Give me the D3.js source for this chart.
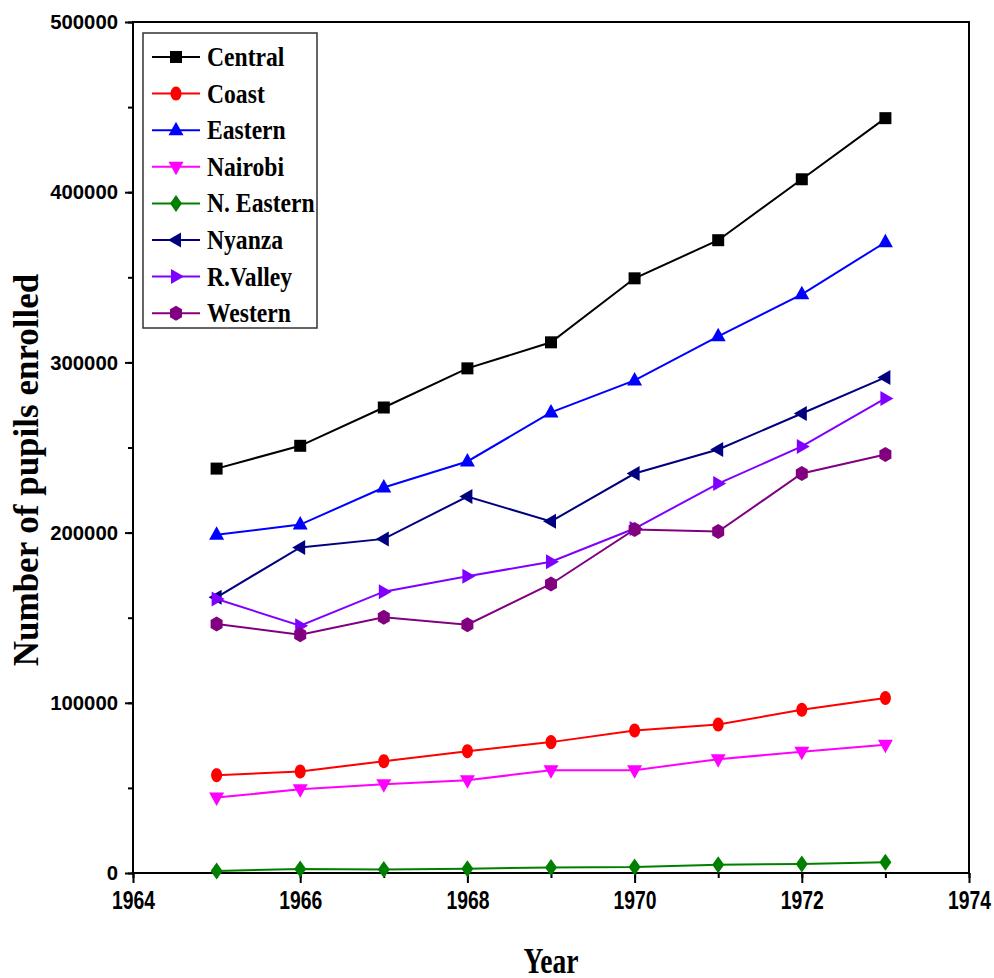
<!DOCTYPE html>
<html>
<head>
<meta charset="utf-8">
<script src="https://cdn.jsdelivr.net/npm/d3@7"></script>
<style>
  body { margin: 0; background: #fff; }
  svg { display: block; }
</style>
</head>
<body>
<div class="chart"></div>
<script>

// data
var years = [1965, 1966, 1967, 1968, 1969, 1970, 1971, 1972, 1973];
var central  = [237600, 251000, 273500, 296500, 311800, 349400, 371800, 407600, 443500];
var coast    = [57500, 59600, 65700, 71600, 76900, 83700, 87200, 95900, 102800];
var eastern  = [198800, 204700, 226500, 241800, 270600, 289400, 315300, 340000, 370600];
var nairobi  = [44300, 49200, 52200, 54500, 60400, 60400, 66900, 71200, 75300];
var nEastern = [1200, 2400, 2000, 2500, 3300, 3500, 4900, 5300, 6300];
var nyanza   = [162000, 191300, 196300, 221200, 206600, 234700, 248800, 270000, 291200];
var rValley  = [161000, 145300, 165300, 174300, 182900, 202400, 228800, 250600, 278800];
var western  = [146300, 140000, 150200, 145900, 169800, 201800, 200600, 234700, 245900];

var seriesNames = ["Central", "Coast", "Eastern", "Nairobi", "N. Eastern", "Nyanza", "R.Valley", "Western"];
var xTicks = [1964, 1966, 1968, 1970, 1972, 1974];
var yTicks = [0, 100000, 200000, 300000, 400000, 500000];

var series = [
  {name: seriesNames[0], values: central,  color: "#000000", marker: "square"},
  {name: seriesNames[1], values: coast,    color: "#ff0000", marker: "circle"},
  {name: seriesNames[2], values: eastern,  color: "#0000ff", marker: "up"},
  {name: seriesNames[3], values: nairobi,  color: "#ff00ff", marker: "down"},
  {name: seriesNames[4], values: nEastern, color: "#008000", marker: "diamond"},
  {name: seriesNames[5], values: nyanza,   color: "#000080", marker: "left"},
  {name: seriesNames[6], values: rValley,  color: "#8000ff", marker: "right"},
  {name: seriesNames[7], values: western,  color: "#800080", marker: "hexagon"}
];

var width = 994;
var height = 978;
// plot box (note: "top" is reserved on window, so use other names)
var plotLeft = 133, plotRight = 969, plotTop = 22, plotBottom = 873;

// marker shapes, centred on 0,0
function markerPath(type) {
  var p = d3.path();
  if (type == "square") {
    p.rect(-6, -6, 12, 12);
  } else if (type == "circle") {
    p.moveTo(5.5, 0);
    for (var a = 1; a <= 24; a++) {
      var t = a / 24 * Math.PI * 2;
      p.lineTo(5.5 * Math.cos(t), 7 * Math.sin(t));
    }
    p.closePath();
  } else if (type == "up") {
    p.moveTo(0, -8.5); p.lineTo(7.5, 5); p.lineTo(-7.5, 5); p.closePath();
  } else if (type == "down") {
    p.moveTo(0, 8.5); p.lineTo(7.5, -5); p.lineTo(-7.5, -5); p.closePath();
  } else if (type == "left") {
    p.moveTo(-8, 0); p.lineTo(5, -7.5); p.lineTo(5, 7.5); p.closePath();
  } else if (type == "right") {
    p.moveTo(8, 0); p.lineTo(-5, -7.5); p.lineTo(-5, 7.5); p.closePath();
  } else if (type == "diamond") {
    p.moveTo(0, -8.5); p.lineTo(6, 0); p.lineTo(0, 8.5); p.lineTo(-6, 0); p.closePath();
  } else if (type == "hexagon") {
    p.moveTo(0, -7.5); p.lineTo(6, -4); p.lineTo(6, 4); p.lineTo(0, 7.5);
    p.lineTo(-6, 4); p.lineTo(-6, -4); p.closePath();
  }
  return p.toString();
}

var x = d3.scaleLinear().domain([1964, 1974]).range([plotLeft, plotRight]);
var y = d3.scaleLinear().domain([0, 500000]).range([plotBottom, plotTop]);

var svg = d3.select('.chart').append('svg')
            .attr('width', width)
            .attr('height', height);

svg.append('rect').attr('width', width).attr('height', height).attr('fill', '#fff');

// minor ticks
var xMinor = d3.axisBottom(x).tickValues(d3.range(1964, 1975, 1)).tickSize(5).tickFormat("");
var yMinor = d3.axisLeft(y).tickValues(d3.range(0, 500001, 50000)).tickSize(5).tickFormat("");
svg.append('g').attr('transform', 'translate(0,' + plotBottom + ')').call(xMinor);
svg.append('g').attr('transform', 'translate(' + plotLeft + ',0)').call(yMinor);

var xAxis = d3.axisBottom(x).tickValues(xTicks).tickSize(10).tickPadding(8).tickFormat(d3.format("d"));
var yAxis = d3.axisLeft(y).tickValues(yTicks).tickSize(8).tickPadding(7).tickFormat(d3.format("d"));

var gx = svg.append('g').attr('class', 'x axis')
            .attr('transform', 'translate(0,' + plotBottom + ')')
            .call(xAxis);
var gy = svg.append('g').attr('class', 'y axis')
            .attr('transform', 'translate(' + plotLeft + ',0)')
            .call(yAxis);

svg.selectAll('.tick line').attr('stroke', '#000').attr('stroke-width', 2);
svg.selectAll('.domain').remove();

gx.selectAll('text')
  .attr('font-family', 'Liberation Sans, Arial, sans-serif')
  .attr('font-weight', 'bold')
  .attr('font-size', 25)
  .attr('fill', '#000')
  .attr('textLength', 43)
  .attr('lengthAdjust', 'spacingAndGlyphs');

gy.selectAll('text')
  .attr('font-family', 'Liberation Sans, Arial, sans-serif')
  .attr('font-weight', 'bold')
  .attr('font-size', 21)
  .attr('fill', '#000')
  .attr('textLength', function(d) { return String(d).length * 11.3; })
  .attr('lengthAdjust', 'spacingAndGlyphs');

// frame
svg.append('rect')
   .attr('x', plotLeft).attr('y', plotTop)
   .attr('width', plotRight - plotLeft).attr('height', plotBottom - plotTop)
   .attr('fill', 'none').attr('stroke', '#000').attr('stroke-width', 2);

var line = d3.line()
             .x(function(d, i) { return x(years[i]); })
             .y(function(d) { return y(d); });

var plot = svg.append('g');

series.forEach(function(s) {
  plot.append('path')
      .attr('d', line(s.values))
      .attr('fill', 'none')
      .attr('stroke', s.color)
      .attr('stroke-width', 2);
  plot.selectAll(null).data(s.values).enter().append('path')
      .attr('d', markerPath(s.marker))
      .attr('transform', function(d, i) { return 'translate(' + x(years[i]) + ',' + y(d) + ')'; })
      .attr('fill', s.color);
});

// legend
var legend = svg.append('g');
legend.append('rect')
      .attr('x', 143).attr('y', 33).attr('width', 174).attr('height', 295)
      .attr('fill', '#fff').attr('stroke', '#333').attr('stroke-width', 1.5);

series.forEach(function(s, i) {
  var ly = 57 + i * 36.6;
  legend.append('line')
        .attr('x1', 152).attr('x2', 200).attr('y1', ly).attr('y2', ly)
        .attr('stroke', s.color).attr('stroke-width', 2);
  legend.append('path')
        .attr('d', markerPath(s.marker))
        .attr('transform', 'translate(176,' + ly + ')')
        .attr('fill', s.color);
  var t = legend.append('text')
        .attr('x', 207).attr('y', ly + 9)
        .attr('font-family', 'Liberation Serif, Times New Roman, serif')
        .attr('font-weight', 'bold')
        .attr('font-size', 27)
        .attr('fill', '#000')
        .text(s.name);
  var w = t.node().getComputedTextLength();
  t.attr('textLength', w * 0.875).attr('lengthAdjust', 'spacingAndGlyphs');
});

// titles
svg.append('text')
   .attr('x', 551).attr('y', 973)
   .attr('text-anchor', 'middle')
   .attr('font-family', 'Liberation Serif, Times New Roman, serif')
   .attr('font-weight', 'bold')
   .attr('font-size', 35)
   .attr('textLength', 55)
   .attr('lengthAdjust', 'spacingAndGlyphs')
   .text('Year');

svg.append('text')
   .attr('transform', 'translate(38,470) rotate(-90)')
   .attr('text-anchor', 'middle')
   .attr('font-family', 'Liberation Serif, Times New Roman, serif')
   .attr('font-weight', 'bold')
   .attr('font-size', 35)
   .text('Number of pupils enrolled');

</script>
</body>
</html>
